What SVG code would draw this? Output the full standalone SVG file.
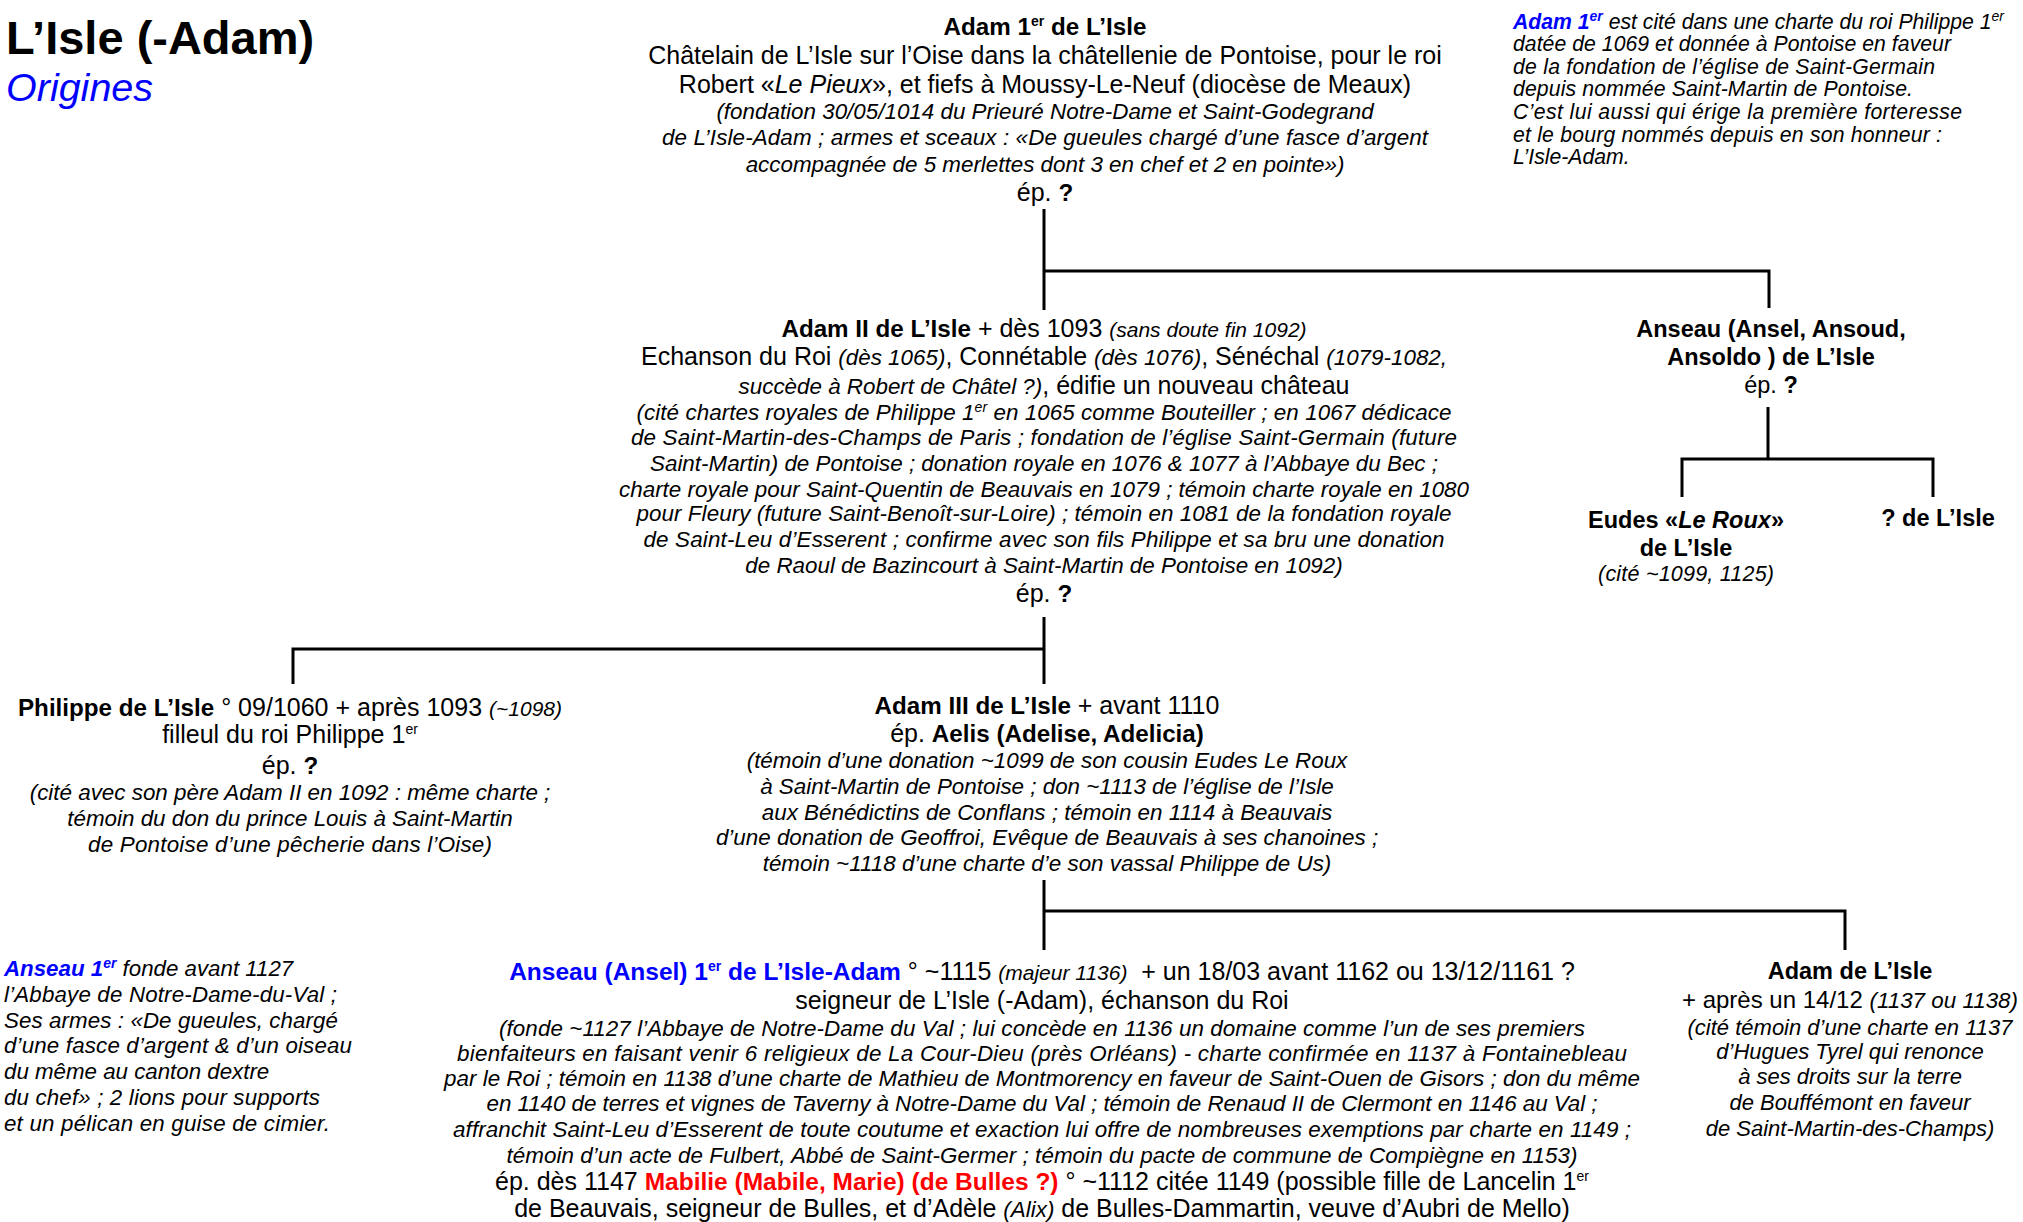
<svg xmlns="http://www.w3.org/2000/svg" width="2023" height="1222" viewBox="0 0 2023 1222">
<style>
text { font-family: "Liberation Sans", Arial, sans-serif; fill: #000; font-size: 25px; }
.c { text-anchor: middle; }
.b { font-weight: bold; font-size: 24.2px; }
.i { font-style: italic; font-size: 22.4px; }
.si { font-style: italic; font-size: 21px; }
.sup { font-size: 14px; }
.blue { fill: #0000ff; }
.red { fill: #ff0000; }
.nb { font-size: 23.5px; }
.nt { font-size: 21.2px; font-style: italic; }
.nl { font-size: 22.3px; font-style: italic; }
.ln { stroke: #000; stroke-width: 3; fill: none; }
</style>
<rect width="2023" height="1222" fill="#fff"/>

<g id="title">
<text x="6" y="54" style="font-size:47px;font-weight:bold">L’Isle (-Adam)</text>
<text x="6" y="101" class="blue" style="font-size:39.5px;font-style:italic">Origines</text>
</g>

<g id="connectors">
<path class="ln" d="M1044,209 V310 M1044,271 H1769 V308"/>
<path class="ln" d="M1768,407 V459 M1682,497 V459 H1933 V497"/>
<path class="ln" d="M1044,617 V684 M1044,649 H293 V684"/>
<path class="ln" d="M1044,880 V950 M1044,911 H1845 V950"/>
</g>

<g id="note-adam1">
<text x="1513" y="28.5" class="nt"><tspan class="blue" font-weight="bold">Adam 1<tspan class="sup" dy="-8">er</tspan></tspan><tspan dy="8"> est cité dans une charte du roi Philippe 1</tspan><tspan class="sup" dy="-8">er</tspan></text>
<text x="1513" y="51" class="nt" textLength="438" lengthAdjust="spacing">datée de 1069 et donnée à Pontoise en faveur</text>
<text x="1513" y="73.5" class="nt" textLength="422" lengthAdjust="spacing">de la fondation de l’église de Saint-Germain</text>
<text x="1513" y="96" class="nt" textLength="400" lengthAdjust="spacing">depuis nommée Saint-Martin de Pontoise.</text>
<text x="1513" y="119" class="nt" textLength="449" lengthAdjust="spacing">C’est lui aussi qui érige la première forteresse</text>
<text x="1513" y="141.5" class="nt" textLength="429" lengthAdjust="spacing">et le bourg nommés depuis en son honneur :</text>
<text x="1513" y="164" class="nt">L’Isle-Adam.</text>
</g>

<g id="adam1">
<text class="c b" x="1045" y="35">Adam 1<tspan class="sup" dy="-9">er</tspan><tspan dy="9"> de L’Isle</tspan></text>
<text class="c" x="1045" y="64">Châtelain de L’Isle sur l’Oise dans la châtellenie de Pontoise, pour le roi</text>
<text class="c" x="1045" y="93">Robert «<tspan font-style="italic">Le Pieux</tspan>», et fiefs à Moussy-Le-Neuf (diocèse de Meaux)</text>
<text class="c i" x="1045" y="119">(fondation 30/05/1014 du Prieuré Notre-Dame et Saint-Godegrand</text>
<text class="c i" x="1045" y="145" textLength="766" lengthAdjust="spacing">de L’Isle-Adam ; armes et sceaux : «De gueules chargé d’une fasce d’argent</text>
<text class="c i" x="1045" y="172">accompagnée de 5 merlettes dont 3 en chef et 2 en pointe»)</text>
<text class="c" x="1045" y="201">ép. <tspan class="b">?</tspan></text>
</g>

<g id="adam2">
<text class="c" x="1044" y="337"><tspan class="b">Adam II de L’Isle</tspan> + dès 1093 <tspan class="si">(sans doute fin 1092)</tspan></text>
<text class="c" x="1044" y="365">Echanson du Roi <tspan class="i">(dès 1065)</tspan>, Connétable <tspan class="i">(dès 1076)</tspan>, Sénéchal <tspan class="i">(1079-1082,</tspan></text>
<text class="c" x="1044" y="394"><tspan class="i">succède à Robert de Châtel ?)</tspan>, édifie un nouveau château</text>
<text class="c i" x="1044" y="420" textLength="815" lengthAdjust="spacing">(cité chartes royales de Philippe 1<tspan class="sup" dy="-8">er</tspan><tspan dy="8"> en 1065 comme Bouteiller ; en 1067 dédicace</tspan></text>
<text class="c i" x="1044" y="445" textLength="826" lengthAdjust="spacing">de Saint-Martin-des-Champs de Paris ; fondation de l’église Saint-Germain (future</text>
<text class="c i" x="1044" y="471" textLength="788" lengthAdjust="spacing">Saint-Martin) de Pontoise ; donation royale en 1076 &amp; 1077 à l’Abbaye du Bec ;</text>
<text class="c i" x="1044" y="497" textLength="850" lengthAdjust="spacing">charte royale pour Saint-Quentin de Beauvais en 1079 ; témoin charte royale en 1080</text>
<text class="c i" x="1044" y="521" textLength="815" lengthAdjust="spacing">pour Fleury (future Saint-Benoît-sur-Loire) ; témoin en 1081 de la fondation royale</text>
<text class="c i" x="1044" y="547" textLength="801" lengthAdjust="spacing">de Saint-Leu d’Esserent ; confirme avec son fils Philippe et sa bru une donation</text>
<text class="c i" x="1044" y="573">de Raoul de Bazincourt à Saint-Martin de Pontoise en 1092)</text>
<text class="c" x="1044" y="602">ép. <tspan class="b">?</tspan></text>
</g>

<g id="anseau">
<text class="c nb" x="1771" y="337" font-weight="bold">Anseau (Ansel, Ansoud,</text>
<text class="c nb" x="1771" y="365" font-weight="bold">Ansoldo ) de L’Isle</text>
<text class="c nb" x="1771" y="393">ép. <tspan font-weight="bold">?</tspan></text>
</g>

<g id="eudes">
<text class="c nb" x="1686" y="528" font-weight="bold">Eudes «<tspan font-style="italic">Le Roux</tspan>»</text>
<text class="c nb" x="1686" y="556" font-weight="bold">de L’Isle</text>
<text class="c" x="1686" y="581" style="font-style:italic;font-size:21.5px" textLength="176" lengthAdjust="spacing">(cité ~1099, 1125)</text>
</g>

<g id="inconnu">
<text class="c nb" x="1938" y="526" font-weight="bold">? de L’Isle</text>
</g>

<g id="philippe">
<text class="c" x="290" y="716"><tspan class="b">Philippe de L’Isle</tspan> ° 09/1060 + après 1093 <tspan class="si">(~1098)</tspan></text>
<text class="c" x="290" y="743">filleul du roi Philippe 1<tspan class="sup" dy="-9">er</tspan></text>
<text class="c" x="290" y="774">ép. <tspan class="b">?</tspan></text>
<text class="c i" x="290" y="800">(cité avec son père Adam II en 1092 : même charte ;</text>
<text class="c i" x="290" y="826">témoin du don du prince Louis à Saint-Martin</text>
<text class="c i" x="290" y="852" textLength="404" lengthAdjust="spacing">de Pontoise d’une pêcherie dans l’Oise)</text>
</g>

<g id="adam3">
<text class="c" x="1047" y="714"><tspan class="b">Adam III de L’Isle</tspan> + avant 1110</text>
<text class="c" x="1047" y="742">ép. <tspan class="b">Aelis (Adelise, Adelicia)</tspan></text>
<text class="c i" x="1047" y="768">(témoin d’une donation ~1099 de son cousin Eudes Le Roux</text>
<text class="c i" x="1047" y="794">à Saint-Martin de Pontoise ; don ~1113 de l’église de l’Isle</text>
<text class="c i" x="1047" y="820">aux Bénédictins de Conflans ; témoin en 1114 à Beauvais</text>
<text class="c i" x="1047" y="845">d’une donation de Geoffroi, Evêque de Beauvais à ses chanoines ;</text>
<text class="c i" x="1047" y="871">témoin ~1118 d’une charte d’e son vassal Philippe de Us)</text>
</g>

<g id="note-anseau1">
<text x="4" y="976" class="nl"><tspan class="blue" font-weight="bold">Anseau 1<tspan class="sup" dy="-8">er</tspan></tspan><tspan dy="8"> fonde avant 1127</tspan></text>
<text x="4" y="1002" class="nl" textLength="333" lengthAdjust="spacing">l’Abbaye de Notre-Dame-du-Val ;</text>
<text x="4" y="1028" class="nl" textLength="334" lengthAdjust="spacing">Ses armes : «De gueules, chargé</text>
<text x="4" y="1053" class="nl" textLength="348" lengthAdjust="spacing">d’une fasce d’argent &amp; d’un oiseau</text>
<text x="4" y="1079" class="nl">du même au canton dextre</text>
<text x="4" y="1105" class="nl" textLength="316" lengthAdjust="spacing">du chef» ; 2 lions pour supports</text>
<text x="4" y="1131" class="nl" textLength="326" lengthAdjust="spacing">et un pélican en guise de cimier.</text>
</g>

<g id="anseau1">
<text class="c" x="1042" y="980" style="white-space:pre"><tspan class="blue" font-weight="bold" font-size="24.5px">Anseau (Ansel) 1<tspan class="sup" dy="-9">er</tspan><tspan dy="9"> de L’Isle-Adam</tspan></tspan> ° ~1115 <tspan class="si">(majeur 1136)</tspan>  + un 18/03 avant 1162 ou 13/12/1161 ?</text>
<text class="c" x="1042" y="1009">seigneur de L’Isle (-Adam), échanson du Roi</text>
<text class="c i" x="1042" y="1036" textLength="1086" lengthAdjust="spacing">(fonde ~1127 l’Abbaye de Notre-Dame du Val ; lui concède en 1136 un domaine comme l’un de ses premiers</text>
<text class="c i" x="1042" y="1061" textLength="1170" lengthAdjust="spacing">bienfaiteurs en faisant venir 6 religieux de La Cour-Dieu (près Orléans) - charte confirmée en 1137 à Fontainebleau</text>
<text class="c i" x="1042" y="1086" textLength="1196" lengthAdjust="spacing">par le Roi ; témoin en 1138 d’une charte de Mathieu de Montmorency en faveur de Saint-Ouen de Gisors ; don du même</text>
<text class="c i" x="1042" y="1111" textLength="1111" lengthAdjust="spacing">en 1140 de terres et vignes de Taverny à Notre-Dame du Val ; témoin de Renaud II de Clermont en 1146 au Val ;</text>
<text class="c i" x="1042" y="1137" textLength="1178" lengthAdjust="spacing">affranchit Saint-Leu d’Esserent de toute coutume et exaction lui offre de nombreuses exemptions par charte en 1149 ;</text>
<text class="c i" x="1042" y="1163" textLength="1071" lengthAdjust="spacing">témoin d’un acte de Fulbert, Abbé de Saint-Germer ; témoin du pacte de commune de Compiègne en 1153)</text>
<text class="c" x="1042" y="1190">ép. dès 1147 <tspan class="red" font-weight="bold" font-size="24.5px">Mabilie (Mabile, Marie) (de Bulles ?)</tspan> ° ~1112 citée 1149 (possible fille de Lancelin 1<tspan class="sup" dy="-9">er</tspan></text>
<text class="c" x="1042" y="1217">de Beauvais, seigneur de Bulles, et d’Adèle <tspan class="i">(Alix)</tspan> de Bulles-Dammartin, veuve d’Aubri de Mello)</text>
</g>

<g id="adam-right">
<text class="c nb" x="1850" y="979" font-weight="bold">Adam de L’Isle</text>
<text class="c" x="1850" y="1008" style="font-size:24px">+ après un 14/12 <tspan class="i" font-size="22px">(1137 ou 1138)</tspan></text>
<text class="c i" x="1850" y="1035" style="font-size:22px">(cité témoin d’une charte en 1137</text>
<text class="c i" x="1850" y="1059" style="font-size:22px">d’Hugues Tyrel qui renonce</text>
<text class="c i" x="1850" y="1084" style="font-size:22px">à ses droits sur la terre</text>
<text class="c i" x="1850" y="1110" style="font-size:22px">de Bouffémont en faveur</text>
<text class="c i" x="1850" y="1136" style="font-size:22px">de Saint-Martin-des-Champs)</text>
</g>
</svg>
